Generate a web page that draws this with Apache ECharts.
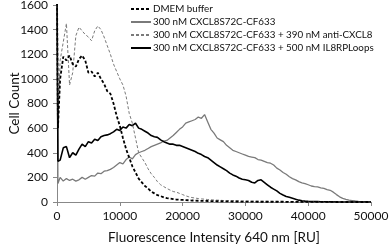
<!DOCTYPE html>
<html>
<head>
<meta charset="utf-8">
<script src="https://cdn.jsdelivr.net/npm/echarts@6/dist/echarts.min.js"></script>
<style>
html,body{margin:0;padding:0;background:#fff;}
#chart{width:389px;height:248px;}
</style>
</head>
<body>
<div id="chart"></div>
<script>
var xs = [0,150,500,1000,1500,2000,2500,3000,3500,4000,4500,5000,5500,6000,6500,7000,7500,8000,8500,9000,9500,
  10000,10500,11000,11500,12000,12500,13000,13500,14000,14500,15000,15500,16000,16500,17000,17500,18000,18500,19000,19500,
  20000,20500,21000,21500,22000,22500,23000,23500,24000,24500,25000,25500,26000,26500,27000,27500,28000,28500,29000,29500,
  30000,30500,31000,31500,32000,32500,33000,33500,34000,34500,35000,35500,36000,36500,37000,37500,38000,38500,39000,39500,
  40000,40500,41000,41500,42000,42500,43000,43500,44000,44500,45000,45500,46000,46500,47000,47500,48000,48500,49000,49500,50000];

var seriesNames = ["DMEM buffer", "300 nM CXCL8S72C-CF633", "300 nM CXCL8S72C-CF633 + 390 nM anti-CXCL8", "300 nM CXCL8S72C-CF633 + 500 nM IL8RPLoops"];

var dmem = [1700,600,1000,1180,1150,1190,1120,1100,1160,1190,1150,1050,1060,1020,1050,1000,960,900,880,800,700,
  620,520,430,360,290,240,190,160,130,110,85,70,55,48,38,32,28,24,20,18,
  17,15,14,12,12,10,9,9,8,7,7,6,6,5,5,5,4,4,4,3,
  3,3,3,3,2,2,2,2,2,2,2,2,2,1,1,1,1,1,1,1,
  1,1,1,1,1,1,1,1,1,0,0,0,0,0,0,0,0,0,0,0,0];

var cxcl8 = [1700,150,200,170,190,175,185,170,180,200,185,200,215,210,235,230,250,255,265,280,300,
  320,310,345,365,350,385,400,410,420,435,450,460,470,480,495,500,520,540,565,590,
  610,640,650,660,670,690,680,710,650,590,560,520,505,490,460,440,420,410,400,390,
  380,370,365,360,345,340,330,320,315,300,275,260,240,225,205,190,180,165,155,150,
  140,130,125,122,115,110,100,95,80,60,42,30,22,16,12,8,5,3,2,1,0];

var antiCxcl8 = [1700,650,1150,1300,1450,950,1050,1350,1420,1390,1360,1340,1310,1390,1430,1400,1340,1270,1200,1120,1060,
  1000,950,860,720,640,520,400,360,320,270,230,200,165,140,125,110,97,85,80,70,
  60,50,42,36,32,28,25,23,20,18,16,15,14,12,11,10,10,9,8,8,
  7,7,6,6,6,5,5,5,4,4,4,4,3,3,3,3,3,2,2,2,
  2,2,2,2,1,1,1,1,1,1,1,1,1,0,0,0,0,0,0,0,0];

var il8rp = [1700,330,340,440,450,360,400,380,430,470,450,490,480,510,500,530,540,545,555,570,590,
  580,610,600,630,620,640,600,590,575,560,540,530,525,505,490,480,470,470,460,460,
  450,440,430,420,410,395,385,370,360,340,320,300,285,270,255,235,220,210,195,185,
  180,175,160,155,175,180,160,140,120,105,90,70,57,45,38,30,22,15,10,7,
  5,4,3,3,2,2,1,1,1,0,0,0,0,0,0,0,0,0,0,0,0];

var yTicks = [0,200,400,600,800,1000,1200,1400,1600];
var xTicks = [0,10000,20000,30000,40000,50000];

function pairs(vals){ return xs.map(function(x,i){ return [x, vals[i]]; }); }

var chart = echarts.init(document.getElementById('chart'), null, {renderer:'canvas'});
var font = 'Lato';
chart.setOption({
  animation:false,
  backgroundColor:'#fff',
  grid:{left:57, right:18, top:5, bottom:46, containLabel:false, outerBoundsMode:'none'},
  legend:{
    orient:'vertical', left:130, top:4, padding:0, itemWidth:20, itemHeight:8, itemGap:3,
    itemStyle:{opacity:0},
    textStyle:{fontFamily:font, fontSize:9.8, color:'#111', padding:[0,0,0,-3]},
    data:seriesNames
  },
  xAxis:{
    type:'value', min:xTicks[0], max:xTicks[xTicks.length-1], interval:10000,
    name:'Fluorescence Intensity 640 nm [RU]', nameLocation:'middle', nameGap:29, nameMoveOverlap:false,
    nameTextStyle:{fontFamily:font, fontSize:13.5, color:'#111'},
    axisLine:{show:true, lineStyle:{color:'#888', width:1}},
    axisTick:{show:true, length:4, lineStyle:{color:'#888'}},
    axisLabel:{fontFamily:font, fontSize:12, color:'#111', margin:8, formatter:function(v){return String(v);}},
    splitLine:{show:false}
  },
  yAxis:{
    type:'value', min:yTicks[0], max:yTicks[yTicks.length-1], interval:200,
    name:'Cell Count', nameLocation:'middle', nameGap:35, nameMoveOverlap:false,
    nameTextStyle:{fontFamily:font, fontSize:13.5, color:'#111'},
    axisLine:{show:true, lineStyle:{color:'#888', width:1}},
    axisTick:{show:true, length:4, lineStyle:{color:'#888'}},
    axisLabel:{fontFamily:font, fontSize:12, color:'#111', margin:9, formatter:function(v){return String(v);}},
    splitLine:{show:false}
  },
  series:[
    {name:seriesNames[1], type:'line', data:pairs(cxcl8), showSymbol:false, symbol:'none',
      lineStyle:{color:'#7a7a7a', width:1.3}, itemStyle:{color:'#7a7a7a'}, z:2},
    {name:seriesNames[3], type:'line', data:pairs(il8rp), showSymbol:false, symbol:'none',
      lineStyle:{color:'#000', width:1.6}, itemStyle:{color:'#000'}, z:3},
    {name:seriesNames[2], type:'line', data:pairs(antiCxcl8), showSymbol:false, symbol:'none',
      lineStyle:{color:'#7a7a7a', width:1, type:[3,2]}, itemStyle:{color:'#7a7a7a'}, z:4},
    {name:seriesNames[0], type:'line', data:pairs(dmem), showSymbol:false, symbol:'none',
      lineStyle:{color:'#000', width:1.8, type:[3,2]}, itemStyle:{color:'#000'}, z:5}
  ]
});
</script>
</body>
</html>
